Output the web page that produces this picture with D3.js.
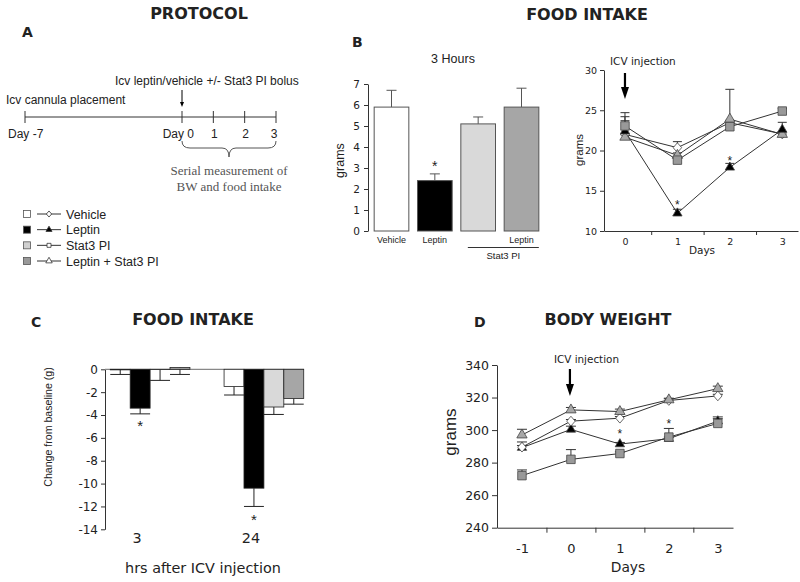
<!DOCTYPE html>
<html><head><meta charset="utf-8">
<script src="https://cdn.jsdelivr.net/npm/d3@7"></script>
<style>body{margin:0;background:#fff}svg{display:block}</style>
</head><body><svg id="c" width="800" height="582"></svg>
<script>
// ================= DATA =================
const seriesNames = ["Vehicle", "Leptin", "Stat3 PI", "Leptin + Stat3 PI"];

// Panel A – protocol timeline
const protocolDays = [-7, 0, 1, 2, 3];
const protocolDayLabels = ["Day -7", "Day 0", "1", "2", "3"];

// Panel B (left) – 3 h food intake (grams)
const b3hMeans = [5.9, 2.4, 5.1, 5.9];
const b3hSem = [0.8, 0.32, 0.33, 0.9];
const b3hBarLabels = ["Vehicle", "Leptin", "", "Leptin"];
const b3hTicks = [0, 1, 2, 3, 4, 5, 6, 7];
const b3hStarVal = 3.24;

// Panel B (right) – daily food intake (grams)
const fiDays = [0, 1, 2, 3];
const fiVehicle = [22.0, 20.35, 23.45, 22.05];
const fiVehicleErr = [1.7, 0.75, 0.3, 0.3];
const fiLeptin = [22.4, 12.2, 17.9, 22.6];
const fiLeptinErr = [1.8, 0.5, 0.5, 0.9];
const fiStat3 = [23.05, 18.8, 22.95, 24.9];
const fiStat3Err = [1.65, 0.3, 0.3, 0.3];
const fiLepStat3 = [21.65, 19.4, 23.9, 22.0];
const fiLepStat3Err = [0.3, 0.3, 3.7, 0.3];
const fiTicks = [10, 15, 20, 25, 30];
const fiStarDays = [1, 2];
const fiStarVals = [13.6, 19.0];

// Panel C – change from baseline (g)
const cGroups = ["3", "24"];
const cVehicle = [-0.05, -1.5];
const cVehicleErr = [0.4, 0.75];
const cLeptin = [-3.4, -10.4];
const cLeptinErr = [0.5, 1.6];
const cStat3 = [-0.02, -3.3];
const cStat3Err = [0.95, 0.65];
const cLepStat3 = [0.15, -2.55];
const cLepStat3Err = [0.6, 0.5];
const cTicks = [-14, -12, -10, -8, -6, -4, -2, 0];
const cStarVals = [-4.67, -12.9];

// Panel D – body weight (grams)
const bwDays = [-1, 0, 1, 2, 3];
const bwVehicle = [289.5, 305.5, 307.3, 318.2, 321.0];
const bwVehicleErr = [1, 1, 1, 1, 1];
const bwLeptin = [289.2, 300.4, 291.4, 294.7, 305.5];
const bwLeptinErr = [3.5, 2, 1, 1, 1.5];
const bwStat3 = [272.0, 282.0, 285.6, 295.7, 304.1];
const bwStat3Err = [3.5, 6, 1, 5.3, 4];
const bwLepStat3 = [297.0, 312.4, 311.4, 318.6, 325.5];
const bwLepStat3Err = [3.5, 1.5, 1.5, 1, 1.5];
const bwTicks = [240, 260, 280, 300, 320, 340];
const bwStarDays = [1, 2];
const bwStarVals = [299, 305.6];

// ================= STYLE =================
const FS = '"Liberation Sans", Arial, Helvetica, sans-serif';
const FD = '"DejaVu Sans", Verdana, sans-serif';
const FSERIF = '"Liberation Serif", "Times New Roman", serif';
const ink = "#222";
const barFill = ["#ffffff", "#000000", "#d9d9d9", "#a6a6a6"];

const diamondType = { draw(ctx, size) { const r = Math.sqrt(size / 2); ctx.moveTo(0, -r * 1.15); ctx.lineTo(r, 0); ctx.lineTo(0, r * 1.15); ctx.lineTo(-r, 0); ctx.closePath(); } };
const markerStyle = [
  { type: diamondType, size: 36, fill: "#ffffff" },
  { type: d3.symbolTriangle, size: 38, fill: "#000000" },
  { type: d3.symbolSquare, size: 72, fill: "#999999" },
  { type: d3.symbolTriangle, size: 46, fill: "#a8a8a8" }
];
const legendMarker = [
  { type: diamondType, size: 14, fill: "#ffffff" },
  { type: d3.symbolTriangle, size: 16, fill: "#000000" },
  { type: d3.symbolSquare, size: 16, fill: "#ffffff" },
  { type: d3.symbolTriangle, size: 18, fill: "#ffffff" }
];

const svg = d3.select("#c");
svg.append("rect").attr("width", 800).attr("height", 582).attr("fill", "#fff");

function text(x, y, str, o = {}) {
  const t = svg.append("text").attr("x", x).attr("y", y).text(str)
    .attr("font-family", o.family || FS).attr("font-size", o.size || 12)
    .attr("fill", o.fill || ink).attr("text-anchor", o.anchor || "start");
  if (o.weight) t.attr("font-weight", o.weight);
  if (o.rotate) t.attr("transform", `rotate(${o.rotate},${x},${y})`);
  return t;
}
function star(x, yc, size = 14) { text(x, yc + size * 0.55, "*", { size, anchor: "middle" }); }
function styleAxis(g, family, size) {
  g.attr("font-family", family).attr("font-size", size);
  g.selectAll("path.domain").attr("stroke", "#333");
  g.selectAll(".tick line").attr("stroke", "#333");
  g.selectAll(".tick text").attr("fill", ink);
}
function arrowDown(x, y0, y1, w, headH, sw) {
  svg.append("line").attr("x1", x).attr("x2", x).attr("y1", y0).attr("y2", y1 - headH + 1)
    .attr("stroke", "#000").attr("stroke-width", sw);
  svg.append("path").attr("d", `M${x - w / 2},${y1 - headH}L${x + w / 2},${y1 - headH}L${x},${y1}Z`).attr("fill", "#000");
}

// ================= TITLES =================
const titleOpts = { family: FD, size: 16, weight: "bold", anchor: "middle" };
text(199, 19, "PROTOCOL", titleOpts);
text(587, 20, "FOOD INTAKE", titleOpts);
text(193, 325, "FOOD INTAKE", titleOpts);
text(608, 325, "BODY WEIGHT", titleOpts);
const letterOpts = { family: FD, size: 14, weight: "bold" };
text(22, 37, "A", letterOpts);
text(352, 47, "B", letterOpts);
text(31, 327, "C", letterOpts);
text(474, 327, "D", letterOpts);

// ================= PANEL A =================
(function () {
  const x = d3.scaleLinear().domain([-7, 0, 3]).range([25, 182, 276]);
  const yLine = 117;
  svg.append("line").attr("x1", x(-7)).attr("x2", x(3)).attr("y1", yLine).attr("y2", yLine).attr("stroke", "#333");
  svg.selectAll(null).data(protocolDays).enter().append("line")
    .attr("x1", d => x(d)).attr("x2", d => x(d)).attr("y1", yLine - 6).attr("y2", yLine + 6).attr("stroke", "#333");
  protocolDays.forEach((d, i) => {
    const lab = protocolDayLabels[i];
    if (d === -7) text(x(d) - 17, 138, lab);
    else if (d === 0) text(x(d) + 12, 138, lab, { anchor: "end" });
    else text(x(d) + (d === 3 ? -2 : 1), 138, lab, { anchor: "middle" });
  });
  text(6, 104, "Icv cannula placement");
  text(115, 85, "Icv leptin/vehicle +/- Stat3 PI bolus");
  arrowDown(x(0), 90, 107, 4, 5, 1);
  // brace
  const a = x(0), b = x(3), m = (a + b) / 2, t = 141, h = 148, p = 157;
  svg.append("path").attr("fill", "none").attr("stroke", "#555").attr("stroke-width", 1)
    .attr("d", `M${a},${t}Q${a},${h} ${a + 8},${h}L${m - 7},${h}Q${m},${h} ${m},${p}Q${m},${h} ${m + 7},${h}L${b - 8},${h}Q${b},${h} ${b},${t}`);
  text(m, 175, "Serial measurement of", { family: FSERIF, size: 13, anchor: "middle", fill: "#555" });
  text(m, 191, "BW and food intake", { family: FSERIF, size: 13, anchor: "middle", fill: "#555" });

  // legend
  const ly = d3.scalePoint().domain(seriesNames).range([214, 261]);
  seriesNames.forEach((s, i) => {
    const yy = ly(s);
    svg.append("rect").attr("x", 23.5).attr("y", yy - 3.5).attr("width", 7).attr("height", 7)
      .attr("fill", i === 3 ? "#999" : (i === 2 ? "#d0d0d0" : barFill[i])).attr("stroke", "#555").attr("stroke-width", 0.8);
    svg.append("line").attr("x1", 37).attr("x2", 61).attr("y1", yy).attr("y2", yy).attr("stroke", "#333");
    svg.append("path").attr("transform", `translate(49,${yy})`)
      .attr("d", d3.symbol().type(legendMarker[i].type).size(legendMarker[i].size)())
      .attr("fill", legendMarker[i].fill).attr("stroke", "#333").attr("stroke-width", 0.8);
    text(66, yy + 4.5, s, { size: 12.5 });
  });
})();

// ================= PANEL B LEFT =================
(function () {
  const y = d3.scaleLinear().domain([0, 7]).range([231, 84]);
  const x = d3.scaleBand().domain(seriesNames).range([372, 541]).paddingInner(0.2).paddingOuter(0.05);
  const g = svg.append("g").attr("transform", "translate(368,0)")
    .call(d3.axisLeft(y).tickValues(b3hTicks).tickSize(4).tickSizeOuter(0).tickPadding(4).tickFormat(d3.format("d")));
  styleAxis(g, FD, 10.5);
  // error bars
  seriesNames.forEach((s, i) => {
    const cx = x(s) + x.bandwidth() / 2;
    svg.append("line").attr("x1", cx).attr("x2", cx).attr("y1", y(b3hMeans[i])).attr("y2", y(b3hMeans[i] + b3hSem[i])).attr("stroke", "#555");
    svg.append("line").attr("x1", cx - 5).attr("x2", cx + 5).attr("y1", y(b3hMeans[i] + b3hSem[i])).attr("y2", y(b3hMeans[i] + b3hSem[i])).attr("stroke", "#555");
  });
  svg.selectAll(null).data(b3hMeans).enter().append("rect")
    .attr("x", (d, i) => x(seriesNames[i])).attr("width", x.bandwidth())
    .attr("y", d => y(d)).attr("height", d => y(0) - y(d))
    .attr("fill", (d, i) => barFill[i]).attr("stroke", "#555").attr("stroke-width", 1);
  b3hBarLabels.forEach((l, i) => { if (l) text(x(seriesNames[i]) + x.bandwidth() / 2, 243, l, { size: 9, anchor: "middle" }); });
  const sx0 = x("Stat3 PI") + 7, sx1 = x("Leptin + Stat3 PI") + x.bandwidth();
  svg.append("line").attr("x1", sx0).attr("x2", sx1).attr("y1", 247.5).attr("y2", 247.5).attr("stroke", "#333");
  text((sx0 + sx1) / 2, 259, "Stat3 PI", { size: 9.5, anchor: "middle" });
  text(453, 63, "3 Hours", { size: 12.5, anchor: "middle" });
  text(344, (y(0) + y(7)) / 2 + 3, "grams", { size: 12.5, anchor: "middle", rotate: -90 });
  star(x("Leptin") + x.bandwidth() / 2, y(b3hStarVal));
})();

// ================= line plot helper =================
function linePlot(x, y, days, vals, errs, order, capW) {
  const line = d3.line().x((d, i) => x(days[i])).y(d => y(d));
  order.forEach(i => {
    svg.append("path").attr("d", line(vals[i])).attr("fill", "none").attr("stroke", "#333").attr("stroke-width", 1);
  });
  order.forEach(i => {
    vals[i].forEach((v, j) => {
      const cx = x(days[j]), top = y(v + errs[i][j]);
      svg.append("line").attr("x1", cx).attr("x2", cx).attr("y1", y(v)).attr("y2", top).attr("stroke", "#333");
      svg.append("line").attr("x1", cx - capW / 2).attr("x2", cx + capW / 2).attr("y1", top).attr("y2", top).attr("stroke", "#333");
    });
  });
  order.forEach(i => {
    const ms = markerStyle[i];
    vals[i].forEach((v, j) => {
      svg.append("path").attr("transform", `translate(${x(days[j])},${y(v)})`)
        .attr("d", d3.symbol().type(ms.type).size(ms.size)())
        .attr("fill", ms.fill).attr("stroke", "#444").attr("stroke-width", 0.8);
    });
  });
}

// ================= PANEL B RIGHT =================
(function () {
  const x = d3.scaleLinear().domain([-0.4, 3.3]).range([604, 798]);
  const y = d3.scaleLinear().domain([10, 30]).range([231, 70]);
  const gy = svg.append("g").attr("transform", "translate(604,0)")
    .call(d3.axisLeft(y).tickValues(fiTicks).tickSize(4).tickSizeOuter(0).tickPadding(3).tickFormat(d3.format("d")));
  styleAxis(gy, FD, 9.5);
  const gx = svg.append("g").attr("transform", "translate(0,231)")
    .call(d3.axisBottom(x).tickValues([0.5, 1.5, 2.5]).tickSize(4).tickSizeOuter(0).tickFormat(""));
  styleAxis(gx, FD, 9.5);
  const gl = svg.append("g").attr("transform", "translate(0,231)")
    .call(d3.axisBottom(x).tickValues(fiDays).tickSize(0).tickPadding(7).tickFormat(d3.format("d")));
  gl.select("path.domain").remove();
  styleAxis(gl, FD, 9.5);
  text(702, 254, "Days", { family: FD, size: 10.5, anchor: "middle" });
  text(583, 150, "grams", { size: 11.5, anchor: "middle", rotate: -90 });
  text(x(0) - 15, 65, "ICV injection", { family: FD, size: 10.5 });
  arrowDown(x(0), 73, 99, 8, 12, 2.2);
  linePlot(x, y, fiDays,
    [fiVehicle, fiLeptin, fiStat3, fiLepStat3],
    [fiVehicleErr, fiLeptinErr, fiStat3Err, fiLepStat3Err],
    [0, 3, 1, 2], 9);
  fiStarDays.forEach((d, i) => star(x(d), y(fiStarVals[i]), 12));
})();

// ================= PANEL C =================
(function () {
  const y = d3.scaleLinear().domain([-14, 0]).range([529.3, 369.3]);
  const x0 = d3.scaleBand().domain(cGroups).range([108, 306]).paddingInner(0.3).paddingOuter(0.02);
  const x1 = d3.scaleBand().domain(seriesNames).range([0, x0.bandwidth()]);
  const vals = [cVehicle, cLeptin, cStat3, cLepStat3];
  const errs = [cVehicleErr, cLeptinErr, cStat3Err, cLepStat3Err];
  const gy = svg.append("g").attr("transform", "translate(105,0)")
    .call(d3.axisLeft(y).tickValues(cTicks).tickSize(4).tickSizeOuter(0).tickPadding(3).tickFormat(d => String(d)));
  styleAxis(gy, FD, 12);
  svg.append("line").attr("x1", 105).attr("x2", 304).attr("y1", y(0)).attr("y2", y(0)).attr("stroke", "#888").attr("stroke-width", 1.2);
  cGroups.forEach((gname, gi) => {
    seriesNames.forEach((s, si) => {
      const v = vals[si][gi], e = errs[si][gi];
      const bx = x0(gname) + x1(s), bw = x1.bandwidth();
      const end = y(v - e);
      svg.append("line").attr("x1", bx + bw / 2).attr("x2", bx + bw / 2).attr("y1", y(v)).attr("y2", end).attr("stroke", "#222");
      svg.append("line").attr("x1", bx).attr("x2", bx + bw).attr("y1", end).attr("y2", end).attr("stroke", "#222");
      svg.append("rect").attr("x", bx).attr("width", bw)
        .attr("y", Math.min(y(0), y(v))).attr("height", Math.abs(y(v) - y(0)))
        .attr("fill", barFill[si]).attr("stroke", "#222").attr("stroke-width", 0.8);
    });
    const lc = x0(gname) + x1("Leptin") + x1.bandwidth() / 2;
    star(lc, y(cStarVals[gi]), 15);
    text(lc - 3, 543, gname, { family: FD, size: 14.4, anchor: "middle" });
  });
  text(203, 573, "hrs after ICV injection", { family: FD, size: 14.4, anchor: "middle" });
  text(52, 427, "Change from baseline (g)", { size: 10.6, anchor: "middle", rotate: -90 });
})();

// ================= PANEL D =================
(function () {
  const x = d3.scaleLinear().domain([-1.51, 3.31]).range([497, 733]);
  const y = d3.scaleLinear().domain([240, 340]).range([527.7, 365]);
  const gy = svg.append("g").attr("transform", "translate(497,0)")
    .call(d3.axisLeft(y).tickValues(bwTicks).tickSize(5).tickSizeOuter(0).tickPadding(3).tickFormat(d3.format("d")));
  styleAxis(gy, FD, 12.5);
  const gx = svg.append("g").attr("transform", "translate(0,527.7)")
    .call(d3.axisBottom(x).tickValues([-0.5, 0.5, 1.5, 2.5]).tickSize(5).tickSizeOuter(0).tickFormat(""));
  styleAxis(gx, FD, 12.5);
  const gl = svg.append("g").attr("transform", "translate(0,527.7)")
    .call(d3.axisBottom(x).tickValues(bwDays).tickSize(0).tickPadding(16).tickFormat(d => String(d)));
  gl.select("path.domain").remove();
  styleAxis(gl, FD, 13);
  text(628, 572, "Days", { family: FD, size: 13.8, anchor: "middle" });
  text(456, 432, "grams", { size: 17, anchor: "middle", rotate: -90 });
  text(x(0) - 17, 363, "ICV injection", { family: FD, size: 10.4 });
  arrowDown(x(0) - 1, 369, 396, 8, 12, 2.2);
  linePlot(x, y, bwDays,
    [bwVehicle, bwLeptin, bwStat3, bwLepStat3],
    [bwVehicleErr, bwLeptinErr, bwStat3Err, bwLepStat3Err],
    [1, 2, 0, 3], 10);
  bwStarDays.forEach((d, i) => star(x(d), y(bwStarVals[i]), 12));
})();
</script></body></html>
